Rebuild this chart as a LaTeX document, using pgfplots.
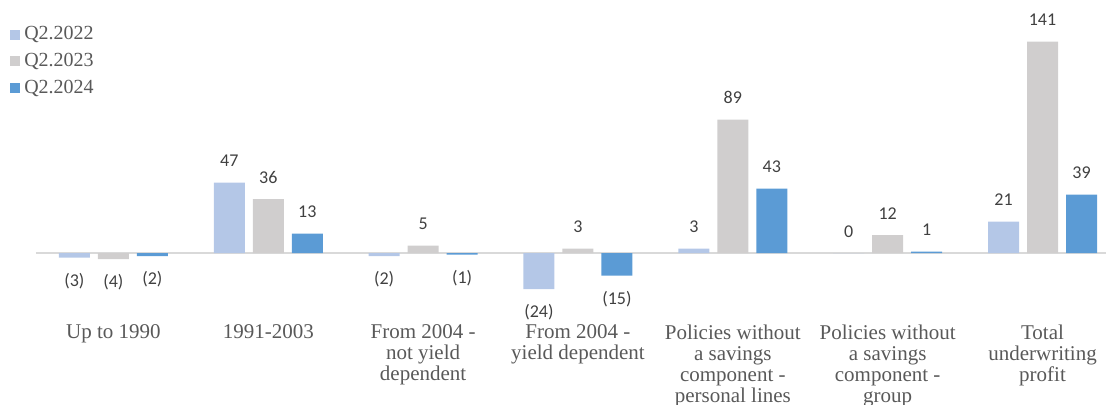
\documentclass[border=0pt]{standalone}
\usepackage{fontspec}
\setmainfont{Liberation Serif}
\newfontfamily\carlito{Carlito}
\usepackage{pgfplots}
\usepackage{pgfplotstable}
\pgfplotsset{compat=1.18}
\definecolor{c1}{HTML}{B4C7E7}
\definecolor{c2}{HTML}{D0CECE}
\definecolor{c3}{HTML}{5B9BD5}
\definecolor{lbl}{HTML}{404040}
\definecolor{cat}{HTML}{595959}
\definecolor{zl}{HTML}{D9D9D9}
\pgfplotstableread{
x a la b lb c lc
0 -3 (3) -4 (4) -2 (2)
1 47 47 36 36 13 13
2 -2 (2) 5 5 -1 (1)
3 -24 (24) 3 3 -15 (15)
4 3 3 89 89 43 43
5 0 0 12 12 1 1
6 21 21 141 141 39 39
}\data
\begin{document}
\begin{tikzpicture}
\begin{axis}[
  width=802.5pt, height=239.25pt, scale only axis,
  xmin=-0.5, xmax=6.41, ymin=-44, ymax=168.667,
  axis line style={draw=none},
  ytick=\empty,
  xtick={0,...,6},
  major tick length=0pt,
  xticklabels={Up to 1990, 1991-2003, {From 2004 -\\not yield\\dependent}, {From 2004 -\\yield dependent}, {Policies without\\a savings\\component -\\personal lines}, {Policies without\\a savings\\component -\\group}, {Total\\underwriting\\profit}},
  xticklabel style={align=center, font=\fontsize{15.75pt}{15.75pt}\selectfont, text=cat, anchor=north, inner sep=0pt, yshift=-4pt},
  visualization depends on={rawy \as \rawy},
  every node near coord/.append style={font=\carlito\fontsize{13.5pt}{16pt}\selectfont, text=lbl, inner xsep=0pt, inner ysep=11.5pt},
  every node near coord/.append code={\ifdim\rawy pt<0pt \pgfkeysalso{anchor=north}\else\pgfkeysalso{anchor=south}\fi},
  legend style={at={(axis description cs:0,1)}, anchor=north west, xshift=-19.5pt, yshift=-18.75pt, draw=none, fill=none, inner sep=0pt, row sep=5.9pt, font=\fontsize{15pt}{15pt}\selectfont, text=cat, nodes={inner sep=0pt, text height=11pt, text depth=3pt}},
  legend cell align=left,
  legend image code/.code={\fill[#1] (0pt,-3.75pt) rectangle (7.5pt,3.75pt);},
]
\addplot[sharp plot, draw=zl, line width=1.5pt, forget plot] coordinates {(-0.5,0) (6.41,0)};
\addplot[ybar, bar width=23.25pt, bar shift=-29.25pt, fill=c1, draw=none, nodes near coords, point meta=explicit symbolic, every node near coord/.append style={xshift=-29.25pt}] table[x=x, y=a, meta=la]{\data};
\addplot[ybar, bar width=23.25pt, bar shift=0pt, fill=c2, draw=none, nodes near coords, point meta=explicit symbolic] table[x=x, y=b, meta=lb]{\data};
\addplot[ybar, bar width=23.25pt, bar shift=29.25pt, fill=c3, draw=none, nodes near coords, point meta=explicit symbolic, every node near coord/.append style={xshift=29.25pt}] table[x=x, y=c, meta=lc]{\data};
\legend{\hspace{3pt}Q2.2022, \hspace{3pt}Q2.2023, \hspace{3pt}Q2.2024}
\end{axis}
\pgfresetboundingbox
\path ([xshift=-27pt]current axis.north west) rectangle ([yshift=-63.75pt]current axis.south east);
\end{tikzpicture}
\end{document}
